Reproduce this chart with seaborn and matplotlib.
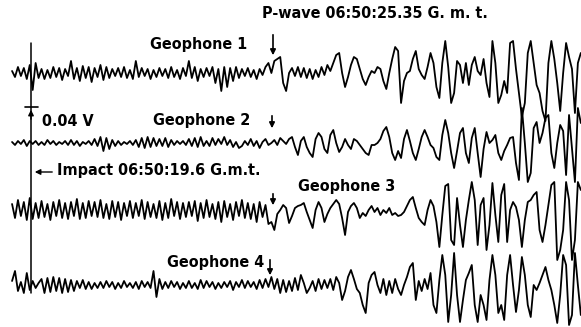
import numpy as np
import pandas as pd
import seaborn as sns
import matplotlib.pyplot as plt

# readings: one every 0.07 s, seconds after 06:50:00 G.m.t.
t_start = 19.15
dt = 0.07
impact_time = 19.6
pwave_time = 25.35

# trace deflections, scale units (0.04 V = 36 units)
geophone_1 = [
    2, -4, 6, -3, 5, -6, 8, -17, 10, -5,
    4, -6, 3, -5, 6, -4, 5, -7, 4, -3,
    12, -6, 5, -8, 7, -5, 6, -9, 5, -4,
    8, -7, 6, -5, 4, -3, 5, -4, 6, -5,
    3, -6, 12, -4, 5, -3, 4, -6, 3, -4,
    5, -3, 4, -5, 6, -4, 3, -6, 5, -3,
    12, -5, 6, -8, 4, -4, 5, -3, 6, -10,
    4, -18, 6, -14, 5, -8, 6, -5, 4, -3,
    5, -4, 3, -6, 4, -2, 6, 10,
    0, 12, 14, 16, -10, -18, 0, 5, -3, 6,
    -4, 5, -5, 4, -6, 3, -4, 6, -2, 8,
    2, 10, 18, 20, 0, -14, -4, 8, 16, 14,
    4, -6, -12, -4, 2, 0, 6, 4, -8, -16,
    0, 14, 26, 22, -30, -8, 0, 2, 14, 22,
    4, -2, -6, 6, 20, 10, -14, -25, 10, 32,
    6, -30, -20, 12, 8, -10, 10, -12, 8, 16,
    2, -2, 14, -10, -24, 32, 10, -30, -22, -8,
    -20, 30, 32, 4, -20, -44, -30, 20, 32, 10,
    -12, -20, -38, -48, 10, 32, 14, -10, -38, 0,
    30, 16, 4, -40, 10, 20,
]
geophone_2 = [
    1, -2, 2, -1, 3, -3, 2, -1, 2, -2,
    1, -2, 3, -1, 2, -2, 1, -1, 2, -2,
    3, -2, 2, -3, 1, -1, 2, -2, 4, -3,
    6, -8, 5, -6, 3, -3, 2, -2, 1, -1,
    2, -2, 3, -4, 5, -5, 6, -4, 5, -3,
    4, -3, 5, -4, 3, -2, 2, -1, 2, -2,
    4, -3, 5, -4, 6, -3, 2, -3, 5, -2,
    4, -1, 6, -2, 3, -4, 1, -5, -3, 2,
    -2, 4, -3, 2, -5, 1, 4, -2,
    0, 3, -2, 5, 2, -1, 4, 6, -4, -12,
    2, 6, -4, -10, -14, 4, 10, 6, -6, -10,
    8, 13, 0, -9, -4, 4, -2, -6, 4, 2,
    -2, -6, -10, -12, -2, -2, 0, 4, 12, 16,
    6, -10, -17, -8, -15, 4, 13, 2, -10, -17,
    -6, 6, 13, 6, -2, -5, -14, -17, 8, 23,
    10, -10, -25, -8, 10, 15, -10, -20, 5, 15,
    -10, -34, -6, 11, 0, 3, 8, -10, -17, -8,
    -2, 5, 6, -20, -37, 35, 0, -39, -30, 15,
    21, 0, 10, 25, 28, -10, -25, 0, 18, 12,
    -32, 28, -5, -39, 35, 20,
]
geophone_3 = [
    6, -8, 10, -6, 8, -10, 12, -9, 7, -8,
    9, -7, 6, -10, 8, -6, 10, -8, 7, -9,
    8, -6, 11, -9, 7, -8, 9, -6, 8, -7,
    10, -8, 6, -9, 9, -7, 8, -10, 7, -6,
    9, -8, 7, -6, 10, -9, 8, -7, 6, -8,
    9, -10, 7, -8, 11, -6, 8, -9, 7, -7,
    8, -6, 9, -11, 7, -8, 10, -7, 6, -9,
    8, -12, 9, -7, 6, -10, 8, -6, 10, -8,
    7, -9, 6, -12, 8, -7, 5, -14,
    -12, -20, -4, 0, 5, 2, -13, -6, 2, 4,
    5, 7, -2, -10, -18, 0, 8, 2, -12, -4,
    2, 6, 10, 6, -8, -25, -2, 4, 7, 2,
    -8, -3, -6, 0, 4, -2, 2, -5, 0, -3,
    2, -5, -3, -6, -5, -2, 4, 10, 13, 2,
    -8, -12, -15, 0, 10, 4, -12, -37, -5, 24,
    26, -30, -35, 12, -15, -37, -10, 10, 28, 10,
    -35, 5, 12, -40, -15, 27, -5, -32, 15, 26,
    -32, 0, 8, 3, -10, -37, -10, 8, 10, 15,
    18, -20, -32, -15, 5, 25, 28, -50, -40, -20,
    28, 10, -50, -30, 28, 20,
]
geophone_4 = [
    4, 14, -6, 3, -8, 12, -5, 4, -3, 2,
    6, -8, 7, -7, 8, -6, 7, -8, 6, -7,
    5, -6, 4, -3, 5, -4, 3, -4, 2, -3,
    3, -3, 4, -2, 3, -4, 2, -3, 4, -2,
    2, -3, 3, -4, 4, -2, 3, -3, 14, -12,
    6, -4, 3, -3, 4, -2, 3, -4, 2, -3,
    4, -3, 2, -4, 5, -3, 4, -2, 3, -4,
    2, -3, 3, -2, 4, -5, 3, -2, 5, -3,
    4, -2, 3, -4, 5, -3, 6, -2,
    8, -4, 6, -8, 5, -7, 4, -6, 7, -5,
    10, 2, -8, -3, 4, -6, 6, -4, 5, -3,
    6, -5, 8, 2, -15, -6, 8, 15, 6, -4,
    -8, -20, -28, 2, 10, 13, 0, -8, 6, -10,
    4, -8, 6, -4, -10, 0, 8, 18, 22, -15,
    4, -6, 6, -4, 12, -20, -28, 5, 30, 10,
    -37, -10, 32, -10, -37, -15, 5, 12, 20, -20,
    -37, -10, -20, -35, 5, 30, 10, -28, -20, -35,
    10, 30, 0, -27, -5, 28, 10, -20, -32, 0,
    -5, 2, 10, 18, 5, -5, -20, -38, -10, 30,
    20, -40, -30, 32, 0, -30,
]
labels = ["Geophone 1", "Geophone 2", "Geophone 3", "Geophone 4"]

# layout (pixels from top-left of the 581x327 image)
W, H = 581, 327
px_per_s = 42.1
baselines = [73, 143, 210, 285]
x0 = impact_time - 31 / px_per_s


def px(x, y):
    return (x0 + x / px_per_s, -y)


traces = [geophone_1, geophone_2, geophone_3, geophone_4]
frames = []
for name, vals, base in zip(labels, traces, baselines):
    t = t_start + dt * np.arange(len(vals))
    frames.append(pd.DataFrame({"time": t, "y": -base + np.array(vals, float), "geophone": name}))
df = pd.concat(frames, ignore_index=True)

sns.set_style("white")
plt.rcParams["font.family"] = ["DejaVu Sans"]
plt.rcParams["font.stretch"] = "condensed"
txt = dict(fontsize=11.5, fontweight="bold", fontstretch="condensed", color="black",
           va="center", ha="left")

fig = plt.figure(figsize=(W / 100, H / 100), dpi=100)
ax = fig.add_axes([0, 0, 1, 1])
for name in labels:
    sns.lineplot(data=df[df.geophone == name], x="time", y="y", color="black",
                 lw=1.3, estimator=None, sort=False, ax=ax)
ax.set_xlim(x0, x0 + W / px_per_s)
ax.set_ylim(-H, 0)
ax.axis("off")

# impact marker line
ax.plot([impact_time, impact_time], [-43, -293], color="black", lw=1.1)
# 0.04 V scale bar
ax.plot([px(25, 0)[0], px(38, 0)[0]], [-107, -107], color="black", lw=1.2)
ax.annotate("", xy=px(31, 107), xytext=px(31, 122),
            arrowprops=dict(arrowstyle="-|>", color="black", lw=1, mutation_scale=8))
ax.text(*px(42, 121), "0.04 V", **txt)

# impact arrow
ax.annotate("", xy=px(32, 172), xytext=px(55, 172),
            arrowprops=dict(arrowstyle="-|>", color="black", lw=1, mutation_scale=8))
ax.text(*px(57, 171), "Impact 06:50:19.6 G.m.t.", **txt)

ax.text(*px(262, 14), "P-wave 06:50:25.35 G. m. t.", **txt)

label_pos = [(150, 44), (153, 121), (298, 186), (167, 262)]
arrows = [(273, 32, 58), (272, 113, 131), (273, 191, 208), (270, 257, 278)]
for name, (lx, ly), (ax_, y1, y2) in zip(labels, label_pos, arrows):
    ax.text(*px(lx, ly), name, **txt)
    ax.annotate("", xy=px(ax_, y2), xytext=px(ax_, y1),
                arrowprops=dict(arrowstyle="-|>", color="black", lw=1.2, mutation_scale=8))

fig.savefig("out.png", dpi=100)
